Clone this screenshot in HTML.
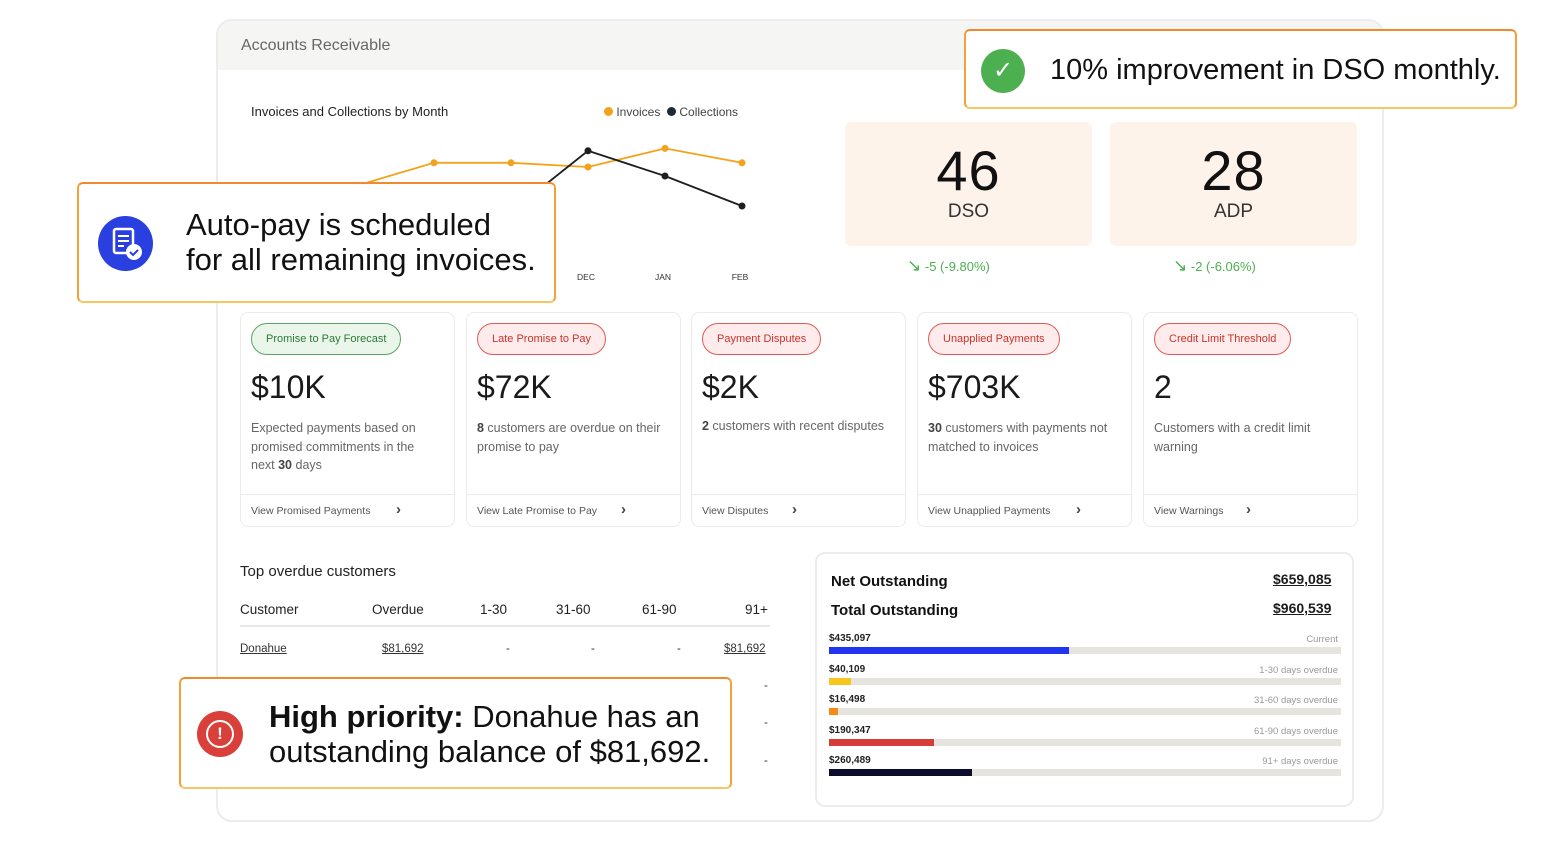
<!DOCTYPE html>
<html><head><meta charset="utf-8"><style>
*{box-sizing:border-box;margin:0;padding:0}
body{width:1568px;height:844px;background:#fff;font-family:"Liberation Sans",sans-serif;color:#1c1c1c;position:relative;overflow:hidden}
.abs{position:absolute}
.card{position:absolute;top:312px;width:215px;height:215px;border:1.5px solid #ebebeb;border-radius:8px;background:#fff}
.pill{position:absolute;left:10px;top:10px;height:32px;border-radius:16px;font-size:11px;line-height:30px;padding:0 14px;border:1.5px solid}
.pg{background:#eaf6ea;border-color:#5aa462;color:#2d7a36}
.pr{background:#fdeceb;border-color:#e05a55;color:#c8332d}
.big{position:absolute;left:10px;top:56px;font-size:32px;color:#1a1a1a}
.desc{position:absolute;left:10px;top:106px;width:190px;font-size:12.5px;line-height:18.5px;color:#666}
.desc b{color:#444}
.foot{position:absolute;left:0;right:0;top:181px;height:32px;border-top:1.5px solid #ebebeb;font-size:10.5px;color:#555;padding:10px 0 0 10px}
.chev{position:absolute;top:6px;font-size:15px;color:#444;font-weight:bold}
.callout{position:absolute;background:#fff;border:2px solid #f3a13c;border-radius:6px;border-top-color:#ef8a2e;border-bottom-color:#f8c765}
.th{position:absolute;top:602px;font-size:13.5px;color:#222}
.td{position:absolute;top:643px;font-size:11.5px;color:#333}
.u{text-decoration:underline}
.bl{position:absolute;left:829px;font-size:10px;font-weight:bold;color:#222}
.br{position:absolute;right:230px;font-size:9.5px;color:#999;text-align:right}
.track{position:absolute;left:829px;width:512px;height:7px;background:#e6e4df}
.kn{font-size:56px;margin-top:16px;color:#111;letter-spacing:1px}
</style></head><body>
<div class="abs" style="left:216px;top:19px;width:1168px;height:803px;border:2px solid #ececec;border-radius:16px;overflow:hidden">
 <div style="height:49px;background:#f5f5f4;font-size:16px;color:#666;padding:16px 0 0 23px">Accounts Receivable</div>
</div>

<div class="abs" style="left:251px;top:104px;font-size:13px;color:#222">Invoices and Collections by Month</div>
<div class="abs" style="left:604px;top:105px;font-size:12px;color:#444">
<span style="display:inline-block;width:9px;height:9px;border-radius:50%;background:#f5a21b"></span> Invoices&nbsp; <span style="display:inline-block;width:9px;height:9px;border-radius:50%;background:#1b2a36"></span> Collections</div>
<svg id="chart" class="abs" style="left:0;top:0" width="800" height="300"></svg>

<div class="abs" style="left:845px;top:122px;width:247px;height:124px;background:#fdf3ea;border-radius:6px;text-align:center">
 <div class="kn">46</div><div style="font-size:19px;color:#333;margin-top:-2px">DSO</div></div>
<div class="abs" style="left:1110px;top:122px;width:247px;height:124px;background:#fdf3ea;border-radius:6px;text-align:center">
 <div class="kn">28</div><div style="font-size:19px;color:#333;margin-top:-2px">ADP</div></div>
<div class="abs" style="left:907px;top:256px;font-size:13px;color:#4caf50"><span style="font-size:17px">↘</span> -5 (-9.80%)</div>
<div class="abs" style="left:1173px;top:256px;font-size:13px;color:#4caf50"><span style="font-size:17px">↘</span> -2 (-6.06%)</div>

<div class="card" style="left:240px"><div class="pill pg">Promise to Pay Forecast</div><div class="big">$10K</div><div class="desc">Expected payments based on promised commitments in the next <b>30</b> days</div><div class="foot">View Promised Payments<span class="chev" style="left:155px">›</span></div></div>
<div class="card" style="left:466px"><div class="pill pr">Late Promise to Pay</div><div class="big">$72K</div><div class="desc"><b>8</b> customers are overdue on their promise to pay</div><div class="foot">View Late Promise to Pay<span class="chev" style="left:154px">›</span></div></div>
<div class="card" style="left:691px"><div class="pill pr">Payment Disputes</div><div class="big">$2K</div><div class="desc" style="top:104px;width:205px"><b>2</b> customers with recent disputes</div><div class="foot">View Disputes<span class="chev" style="left:100px">›</span></div></div>
<div class="card" style="left:917px"><div class="pill pr">Unapplied Payments</div><div class="big">$703K</div><div class="desc" style="width:200px"><b>30</b> customers with payments not matched to invoices</div><div class="foot">View Unapplied Payments<span class="chev" style="left:158px">›</span></div></div>
<div class="card" style="left:1143px"><div class="pill pr">Credit Limit Threshold</div><div class="big">2</div><div class="desc">Customers with a credit limit warning</div><div class="foot">View Warnings<span class="chev" style="left:102px">›</span></div></div>

<div class="abs" style="left:240px;top:563px;font-size:15px;color:#222">Top overdue customers</div>
<div class="th" style="left:240px">Customer</div><div class="th" style="left:372px">Overdue</div><div class="th" style="left:480px">1-30</div><div class="th" style="left:556px">31-60</div><div class="th" style="left:642px">61-90</div><div class="th" style="left:745px">91+</div>
<div class="abs" style="left:240px;top:625px;width:530px;height:2px;background:#e8e8e8"></div>
<div class="td u" style="left:240px">Donahue</div><div class="td u" style="left:382px">$81,692</div><div class="td" style="left:506px">-</div><div class="td" style="left:591px">-</div><div class="td" style="left:677px">-</div><div class="td u" style="left:724px">$81,692</div>
<div class="td" style="left:764px;top:680px">-</div><div class="td" style="left:764px;top:717px">-</div><div class="td" style="left:764px;top:755px">-</div>

<div class="abs" style="left:815px;top:552px;width:539px;height:255px;border:2px solid #ececec;border-radius:10px"></div>
<div class="abs" style="left:831px;top:573px;font-size:15px;font-weight:bold;color:#111">Net Outstanding</div>
<div class="abs u" style="left:1273px;top:571px;font-size:14px;font-weight:bold">$659,085</div>
<div class="abs" style="left:831px;top:602px;font-size:15px;font-weight:bold;color:#111">Total Outstanding</div>
<div class="abs u" style="left:1273px;top:600px;font-size:14px;font-weight:bold">$960,539</div>
<div id="aging"></div>

<div class="callout" style="left:77px;top:182px;width:479px;height:121px">
 <div class="abs" style="left:19px;top:32px;width:55px;height:55px;border-radius:50%;background:#2a3fe0">
 <svg width="55" height="55"><rect x="16" y="13" width="19" height="24" rx="2" fill="none" stroke="#fff" stroke-width="2.5"/><line x1="20" y1="20" x2="31" y2="20" stroke="#fff" stroke-width="2"/><line x1="20" y1="25" x2="31" y2="25" stroke="#fff" stroke-width="2"/><line x1="20" y1="30" x2="26" y2="30" stroke="#fff" stroke-width="2"/><circle cx="36" cy="36" r="8" fill="#fff"/><path d="M32 36l3 3 5-5" stroke="#2a3fe0" stroke-width="2" fill="none"/></svg></div>
 <div class="abs" style="left:107px;top:23px;font-size:31px;line-height:35px;color:#111;white-space:nowrap">Auto-pay is scheduled<br>for all remaining invoices.</div>
</div>
<div class="callout" style="left:964px;top:29px;width:553px;height:80px">
 <div class="abs" style="left:15px;top:18px;width:44px;height:44px;border-radius:50%;background:#4caf50;color:#fff;font-size:24px;text-align:center;line-height:44px">✓</div>
 <div class="abs" style="left:84px;top:23px;font-size:29px;color:#111;white-space:nowrap">10% improvement in DSO monthly.</div>
</div>
<div class="callout" style="left:179px;top:677px;width:553px;height:112px">
 <div class="abs" style="left:16px;top:32px;width:46px;height:46px;border-radius:50%;background:#d9403a"><div style="position:absolute;left:9px;top:9px;width:28px;height:28px;border:2.5px solid #fff;border-radius:50%;color:#fff;font-weight:bold;text-align:center;line-height:23px;font-size:17px">!</div></div>
 <div class="abs" style="left:88px;top:20px;font-size:31px;line-height:35px;color:#111;white-space:nowrap"><b>High priority:</b> Donahue has an<br>outstanding balance of $81,692.</div>
</div>

<script>
const months=["AUG","SEP","OCT","NOV","DEC","JAN","FEB"];
const invoices=[55,62,81,81,77.5,93,81];
const collections=[30,35,52,40,91,70,45];
const agingValues=[435097,40109,16498,190347,260489];
const agingLabels=["$435,097","$40,109","$16,498","$190,347","$260,489"];
const agingNames=["Current","1-30 days overdue","31-60 days overdue","61-90 days overdue","91+ days overdue"];
const agingColors=["#2233f0","#f8c51c","#f78a12","#d63d36","#0b0b2e"];
const agingMax=930000;
const NS="http://www.w3.org/2000/svg";
const svg=document.getElementById('chart');
const xs=i=>280+i*77;
const ys=v=>260-v*1.2;
function drawSeries(vals,color,name){
  const pl=document.createElementNS(NS,'polyline');
  pl.setAttribute('points',vals.map((v,i)=>xs(i)+','+ys(v)).join(' '));
  pl.setAttribute('fill','none');pl.setAttribute('stroke',color);pl.setAttribute('stroke-width','1.8');
  
  
  svg.appendChild(pl);
  vals.forEach((v,i)=>{const c=document.createElementNS(NS,'circle');
    c.setAttribute('cx',xs(i));c.setAttribute('cy',ys(v));c.setAttribute('r','3.5');c.setAttribute('fill',color);
    
    
    svg.appendChild(c);});
}
drawSeries(invoices,'#f5a21b','invoices');
drawSeries(collections,'#1e1e1e','collections');
months.forEach((m,i)=>{const t=document.createElementNS(NS,'text');
  t.setAttribute('x',xs(i)-2);t.setAttribute('y',280);t.setAttribute('text-anchor','middle');
  t.setAttribute('font-size','8.5');t.setAttribute('fill','#333');t.setAttribute('font-family','Liberation Sans');t.textContent=m;
  
  
  svg.appendChild(t);});
const ag=document.getElementById('aging');
agingValues.forEach((v,i)=>{const top=633+i*30.6;
  const l=document.createElement('div');l.className='bl';l.style.top=top+'px';l.textContent=agingLabels[i];
  
  
  ag.appendChild(l);
  const r=document.createElement('div');r.className='br';r.style.top=(top+1)+'px';r.textContent=agingNames[i];
  
  
  ag.appendChild(r);
  const tr=document.createElement('div');tr.className='track';tr.style.top=(top+14)+'px';
  
  
  const f=document.createElement('div');f.style.cssText='height:100%;background:'+agingColors[i]+';width:'+(v/agingMax*512)+'px';
  
  
  tr.appendChild(f);ag.appendChild(tr);});
</script>
</body></html>
